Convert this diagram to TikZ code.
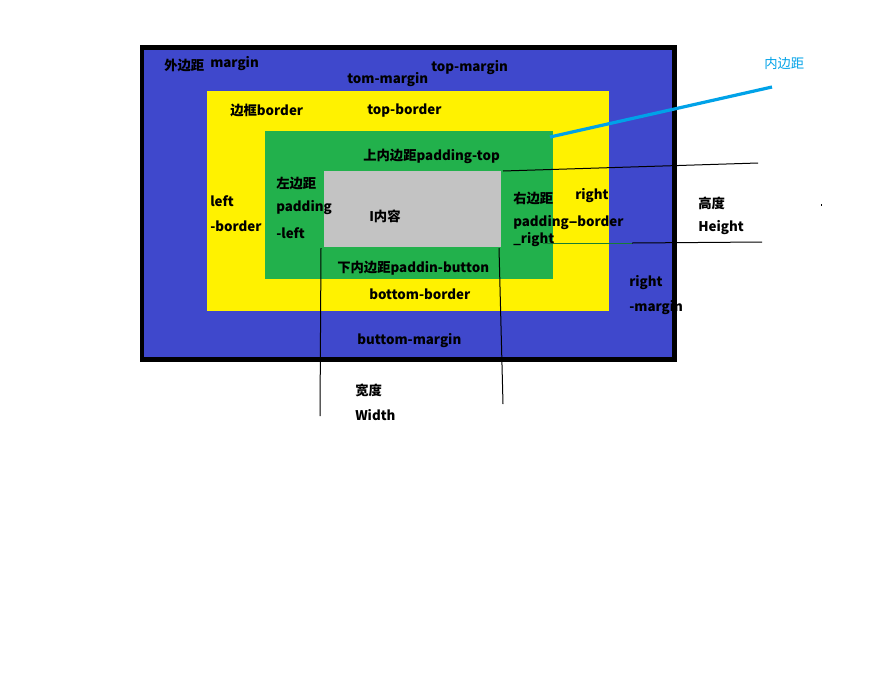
\documentclass[tikz,border=0pt]{standalone}
\usepackage{fontspec}
\setmainfont{Noto Sans CJK SC}
\definecolor{mblue}{HTML}{3F48CC}
\definecolor{myellow}{HTML}{FFF200}
\definecolor{mgreen}{HTML}{22B14C}
\definecolor{mgray}{HTML}{C3C3C3}
\definecolor{mcyan}{HTML}{00A2E8}
\tikzset{
  lbl/.style={anchor=west, inner sep=0pt, font=\fontsize{10}{12}\selectfont\bfseries, text=black},
  thinline/.style={draw=black, line width=0.75pt},
}
\begin{document}
\begin{tikzpicture}[x=0.75pt,y=-0.75pt]
\useasboundingbox (0,0) rectangle (896,672);
\fill[white] (0,0) rectangle (896,672);
% boxes
\fill[black] (140,45) rectangle (677,362);
\fill[mblue] (144,50) rectangle (672,357);
\fill[myellow] (207,91) rectangle (609,311);
\fill[mgreen] (265,131) rectangle (553,279);
\fill[mgray] (324,171) rectangle (501,247);
% pointer line
\coordinate (pa) at (550,137);
\coordinate (pb) at (772,87);
\draw[mcyan, line width=2.4pt] (pa) -- (pb);
\node[lbl, text=mcyan, font=\fontsize{10}{12}\selectfont] (pad) at (764,63) {内边距};
% height lines
\coordinate (h1) at (503,171);
\coordinate (h2) at (758,163);
\draw[thinline] (h1) -- (h2);
\coordinate (h3) at (543,243);
\coordinate (h4) at (632,243);
\coordinate (h5) at (762,242);
\draw[draw=mgreen!70!black, line width=0.75pt] (h3) -- (h4);
\draw[thinline] (h4) -- (h5);
\fill[black] (820.5,204) rectangle (821.5,206);
% width lines
\coordinate (w1) at (321,248);
\coordinate (w2) at (320,416);
\draw[thinline] (w1) -- (w2);
\coordinate (w3) at (499,248);
\coordinate (w4) at (503,404);
\draw[thinline] (w3) -- (w4);
% labels
\node[lbl] (t1) at (164,65) {外边距};
\node[lbl] (t2) at (210,64) {margin};
\node[lbl] (t3) at (431,68) {top-margin};
\node[lbl] (t4) at (347,80) {tom-margin};
\node[lbl] (t5) at (230,110) {边框border};
\node[lbl] (t6) at (367,111) {top-border};
\node[lbl] (t7) at (363,156) {上内边距padding-top};
\node[lbl] (t8) at (276,183) {左边距};
\node[lbl] (t9) at (276,208) {padding};
\node[lbl] (t10) at (276,233) {-left};
\node[lbl] (t11) at (210,201) {left};
\node[lbl] (t12) at (210,226) {-border};
\node[lbl] (t13) at (369,216) {I内容};
\node[lbl] (t14) at (513,198) {右边距};
\node[lbl] (t15) at (513,223) {padding-};
\node[lbl] (t16) at (513,240) {\_right};
\node[lbl] (t17) at (575,196) {right};
\node[lbl] (t18) at (572,221) {-border};
\node[lbl] (t19) at (698,203) {高度};
\node[lbl] (t20) at (698,228) {Height};
\node[lbl] (t21) at (337,268) {下内边距paddin-button};
\node[lbl] (t22) at (369,294) {bottom-border};
\node[lbl] (t23) at (629,283) {right};
\node[lbl] (t24) at (629,308) {-margin};
\node[lbl] (t25) at (357,341) {buttom-margin};
\node[lbl] (t26) at (355,390) {宽度};
\node[lbl] (t27) at (355,415) {Width};
\end{tikzpicture}
\end{document}
